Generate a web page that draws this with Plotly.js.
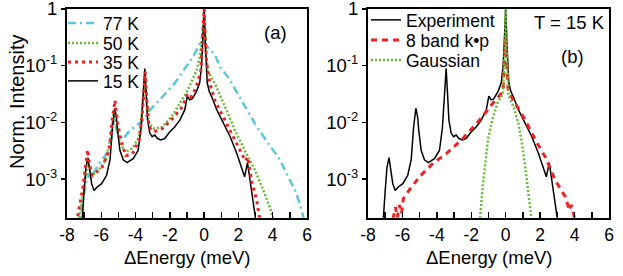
<!DOCTYPE html>
<html>
<head>
<meta charset="utf-8">
<script src="https://cdn.plot.ly/plotly-3.0.1.min.js"></script>
<style>
html,body{margin:0;padding:0;background:#fff;}
#chart{width:623px;height:276px;}
</style>
</head>
<body>
<div id="chart"></div>
<script>
// ---------- data ----------
// Panel (a): temperature series, x = ΔEnergy (meV), y = normalized intensity
var E15 = [-7.25,-7.1,-7.0,-6.9,-6.78,-6.68,-6.56,-6.42,-6.26,-5.98,-5.69,-5.49,-5.35,-5.22,-5.12,-5.05,-4.91,-4.72,-4.5,-4.14,-3.85,-3.68,-3.55,-3.46,-3.38,-3.3,-3.17,-3.03,-2.88,-2.72,-2.53,-2.3,-2.01,-1.72,-1.42,-1.13,-0.98,-0.85,-0.7,-0.45,-0.26,-0.15,-0.07,0,0.07,0.12,0.18,0.3,0.45,0.74,1.13,1.52,1.91,2.2,2.36,2.53,2.69,2.84,2.98,3.05];
var I15 = [1.3e-4,2.2e-4,6.3e-4,1.6e-3,2.4e-3,1.6e-3,8.3e-4,6.3e-4,7.2e-4,8.3e-4,1.17e-3,2.2e-3,8.3e-3,1.78e-2,1.26e-2,7.2e-3,3.2e-3,2.2e-3,1.95e-3,2.3e-3,3.2e-3,7.9e-3,4.0e-2,8.9e-2,3.2e-2,1.1e-2,6.5e-3,5.6e-3,6.0e-3,5.2e-3,4.9e-3,5.2e-3,6.8e-3,8.3e-3,1.1e-2,1.66e-2,2.9e-2,2.5e-2,2.6e-2,3.5e-2,5.0e-2,0.1,0.32,1,0.25,0.1,0.05,0.035,0.028,0.0166,9.5e-3,5.6e-3,2.8e-3,1.45e-3,1.1e-3,1.95e-3,9.5e-4,4.3e-4,2.2e-4,1.3e-4];

var E35 = [-7.45,-7.35,-7.09,-6.94,-6.8,-6.68,-6.52,-6.35,-5.93,-5.54,-5.38,-5.2,-5.05,-4.86,-4.57,-4.18,-3.79,-3.62,-3.44,-3.35,-3.21,-2.92,-2.43,-1.84,-1.26,-0.97,-0.8,-0.68,-0.39,-0.2,-0.07,0,0.07,0.15,0.33,0.62,1.21,1.69,2.18,2.4,2.55,2.76,3.06,3.25,3.35];
var I35 = [1.26e-4,2.5e-4,6.5e-4,1.66e-3,3.3e-3,1.78e-3,1.17e-3,1.26e-3,1.66e-3,3.2e-3,1.0e-2,2.45e-2,1.0e-2,4.9e-3,2.6e-3,2.8e-3,4.9e-3,1.26e-2,7.9e-2,2.5e-2,8.3e-3,6.8e-3,7.8e-3,1.17e-2,1.9e-2,3.2e-2,2.8e-2,3.0e-2,4.9e-2,7.9e-2,0.32,1,0.28,0.11,4.9e-2,2.45e-2,1.1e-2,5.6e-3,2.8e-3,2.1e-3,2.45e-3,9.5e-4,4.3e-4,2.2e-4,1.26e-4];

var E50 = [-7.38,-7.29,-7.0,-6.8,-6.65,-6.51,-6.13,-5.74,-5.44,-5.25,-5.1,-4.96,-4.61,-4.18,-3.79,-3.62,-3.44,-3.35,-3.21,-2.92,-2.43,-1.84,-1.26,-1.0,-0.78,-0.44,-0.25,-0.08,0,0.08,0.12,0.23,0.62,1.21,1.79,2.37,2.96,3.44,3.83,4.03,4.1];
var I50 = [1.26e-4,2.2e-4,7.2e-4,2.0e-3,1.4e-3,1.17e-3,1.45e-3,2.2e-3,5.6e-3,1.66e-2,8.9e-3,4.9e-3,3.0e-3,3.5e-3,5.6e-3,1.58e-2,6.8e-2,2.5e-2,9.5e-3,7.8e-3,8.3e-3,1.35e-2,2.6e-2,3.5e-2,4.9e-2,8.3e-2,0.145,0.4,1,0.35,0.14,7.9e-2,4.9e-2,1.9e-2,7.4e-3,3.2e-3,1.45e-3,6.5e-4,3.2e-4,2.0e-4,1.26e-4];

var E77 = [-7.3,-7.19,-7.0,-6.8,-6.65,-6.5,-6.12,-5.54,-5.35,-5.25,-5.1,-4.76,-4.34,-3.6,-3.16,-1.79,-0.64,-0.25,0,0.33,0.62,0.92,1.4,2.18,2.96,3.73,4.42,4.9,5.29,5.58,5.78,5.85];
var I77 = [1.26e-4,2.2e-4,5.6e-4,1.26e-3,9.5e-4,1.2e-3,1.9e-3,3.2e-3,6.3e-3,1.26e-2,7.1e-3,5.0e-3,7.2e-3,1.05e-2,1.66e-2,4.6e-2,0.145,0.245,0.26,0.19,0.16,9.5e-2,6.3e-2,2.45e-2,9.5e-3,4.3e-3,2.2e-3,1.1e-3,6.5e-4,3.7e-4,2.2e-4,1.26e-4];

// Panel (b): T = 15 K experiment (same as 15 K above), 8 band k·p, Gaussian
var Ekp = [-6.6,-6.52,-6.4,-6.3,-6.17,-6.05,-5.95,-5.59,-5.01,-4.23,-3.46,-2.49,-1.52,-0.74,-0.16,-0.05,0,0.05,0.15,0.45,1.13,1.72,2.3,2.88,3.46,3.7,3.8,3.94,4.14];
var Ikp = [1.26e-4,2.2e-4,3.2e-4,2.1e-4,3.5e-4,2.5e-4,4.5e-4,6.5e-4,1.1e-3,1.9e-3,2.8e-3,5.2e-3,1.1e-2,2.2e-2,3.5e-2,0.126,0.32,0.126,3.5e-2,2.45e-2,1.1e-2,4.9e-3,2.45e-3,9.5e-4,4.9e-4,2.8e-4,3.5e-4,2.45e-4,1.26e-4];

var Egauss = [-1.52,-1.48,-1.33,-1.03,-0.78,-0.45,-0.16,-0.05,0,0.05,0.16,0.45,0.74,0.94,1.13,1.33,1.48,1.52];
var Igauss = [1.26e-4,2.2e-4,7.9e-4,5.0e-3,1.12e-2,2.3e-2,3.2e-2,0.2,1,0.2,3.0e-2,1.9e-2,9.5e-3,4.3e-3,1.66e-3,5.6e-4,2.2e-4,1.26e-4];

// labels
var namesA = ['77 K','50 K','35 K','15 K'];
var namesB = ['Experiment','8 band k\u2022p','Gaussian'];
var xTickVals = [-8,-6,-4,-2,0,2,4,6];
var xTickText = ['-8','-6','-4','-2','0','2','4','6'];
var xMinorVals = [-7,-5,-3,-1,1,3,5];
var yTickVals = [1e-3,1e-2,1e-1,1];
var yTickText = ['10<sup>-3</sup>','10<sup>-2</sup>','10<sup>-1</sup>','1'];

// ---------- styling ----------
var W = 623, H = 276;
function px(x){return x/W;}
function py(y){return 1 - y/H;}
var RED = '#ee2222', GREEN = '#66bb33', CYAN = '#5cc6da';

var traces = [
  {x:E77, y:I77, name:namesA[0], xaxis:'x', yaxis:'y', legend:'legend',
   mode:'lines', line:{color:CYAN, width:2.5, dash:'8px,4px,2px,4px'}},
  {x:E50, y:I50, name:namesA[1], xaxis:'x', yaxis:'y', legend:'legend2',
   mode:'lines', line:{color:GREEN, width:2.5, dash:'2px,2px'}},
  {x:E15, y:I15, name:namesA[3], xaxis:'x', yaxis:'y', legend:'legend4',
   mode:'lines', line:{color:'#000', width:1.5}},
  {x:E35, y:I35, name:namesA[2], xaxis:'x', yaxis:'y', legend:'legend3',
   mode:'lines', line:{color:RED, width:3, dash:'3px,4px'}},

  {x:E15, y:I15, name:namesB[0], xaxis:'x2', yaxis:'y2', legend:'legend5',
   mode:'lines', line:{color:'#000', width:1.5}},
  {x:Ekp, y:Ikp, name:namesB[1], xaxis:'x2', yaxis:'y2', legend:'legend6',
   mode:'lines', line:{color:RED, width:3, dash:'6px,5px'}},
  {x:Egauss, y:Igauss, name:namesB[2], xaxis:'x2', yaxis:'y2', legend:'legend7',
   mode:'lines', line:{color:GREEN, width:2.5, dash:'2px,2px'}}
];

var FONT = 'Liberation Sans, Arial, Helvetica, sans-serif';
function xAxis(dom, anchor){
  return {domain:dom, anchor:anchor, range:[-8,6], showline:true, linewidth:2, linecolor:'#000', mirror:true,
    ticks:'inside', ticklen:6, tickwidth:1.5, tickcolor:'#000',
    tickmode:'array', tickvals:xTickVals, ticktext:xTickText,
    minor:{tickmode:'array', tickvals:xMinorVals, ticks:'inside', ticklen:6, tickwidth:1.5, tickcolor:'#000', showgrid:false},
    showgrid:false, zeroline:false, tickfont:{size:17.5, family:FONT, color:'#000'}, ticklabelstandoff:0,
    ticklabeloverflow:'allow'};
}
function yAxis(dom, anchor){
  return {domain:dom, anchor:anchor, type:'log', range:[-3.68,0.002], showline:true, linewidth:2, linecolor:'#000', mirror:true,
    ticks:'outside', ticklen:4, tickwidth:1.5, tickcolor:'#000',
    tickmode:'array', tickvals:yTickVals, ticktext:yTickText,
    showgrid:false, zeroline:false, tickfont:{size:18.5, family:FONT, color:'#000'},
    ticklabeloverflow:'allow'};
}
var yDom = [py(217.7), py(8.9)];
function leg(xp, yp){
  return {x:px(xp), y:py(yp), xanchor:'left', yanchor:'middle', bgcolor:'rgba(0,0,0,0)', borderwidth:0,
    font:{size:17.5, family:FONT, color:'#000'}};
}
var layout = {
  width:W, height:H, margin:{l:0,r:0,t:0,b:0},
  paper_bgcolor:'#fff', plot_bgcolor:'#fff',
  font:{family:FONT, size:17, color:'#000'},
  showlegend:true,
  xaxis: xAxis([px(67), px(307)], 'y'),
  yaxis: yAxis(yDom, 'x'),
  xaxis2: xAxis([px(368), px(609)], 'y2'),
  yaxis2: yAxis(yDom, 'x2'),
  legend: leg(63, 23),
  legend2: leg(63, 43),
  legend3: leg(63, 62),
  legend4: leg(63, 81),
  legend5: leg(366, 20),
  legend6: leg(366, 40),
  legend7: leg(366, 60),
  annotations:[
    {text:'\u0394Energy (meV)', xref:'paper', yref:'paper', x:px(187), y:py(257), xanchor:'center', yanchor:'middle', showarrow:false, font:{size:18.5}},
    {text:'\u0394Energy (meV)', xref:'paper', yref:'paper', x:px(489), y:py(257), xanchor:'center', yanchor:'middle', showarrow:false, font:{size:18.5}},
    {text:'Norm. Intensity', xref:'paper', yref:'paper', x:px(17), y:py(102), xanchor:'center', yanchor:'middle', textangle:-90, showarrow:false, font:{size:20}},
    {text:'(a)', xref:'paper', yref:'paper', x:px(275), y:py(33), xanchor:'center', yanchor:'middle', showarrow:false, font:{size:18.5}},
    {text:'(b)', xref:'paper', yref:'paper', x:px(572), y:py(56), xanchor:'center', yanchor:'middle', showarrow:false, font:{size:18.5}},
    {text:'T = 15 K', xref:'paper', yref:'paper', x:px(569), y:py(22), xanchor:'center', yanchor:'middle', showarrow:false, font:{size:18.5}}
  ]
};
Plotly.newPlot('chart', traces, layout, {displayModeBar:false, staticPlot:true});
</script>
</body>
</html>
